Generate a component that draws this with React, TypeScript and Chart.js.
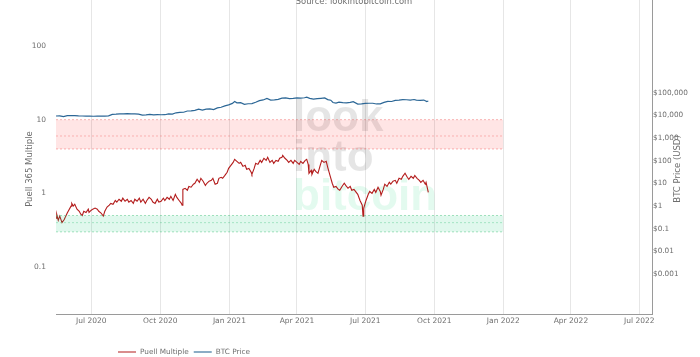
import React, { useEffect, useRef } from 'react';
import { Chart, registerables } from 'chart.js';
Chart.register(...registerables);

const puellDates = [
  '2020-05-15','2020-05-16','2020-05-18','2020-05-20','2020-05-23','2020-05-26','2020-05-28','2020-05-30',
  '2020-06-01','2020-06-04','2020-06-05','2020-06-07','2020-06-09','2020-06-12','2020-06-15','2020-06-17',
  '2020-06-19','2020-06-21','2020-06-24','2020-06-27','2020-06-28','2020-07-01','2020-07-03','2020-07-06',
  '2020-07-09','2020-07-11','2020-07-14','2020-07-17','2020-07-19','2020-07-22','2020-07-25','2020-07-27',
  '2020-07-30','2020-08-02','2020-08-04','2020-08-07','2020-08-10','2020-08-12','2020-08-15','2020-08-18',
  '2020-08-20','2020-08-23','2020-08-26','2020-08-28','2020-08-31','2020-09-03','2020-09-05','2020-09-08',
  '2020-09-11','2020-09-13','2020-09-16','2020-09-19','2020-09-21','2020-09-24','2020-09-27','2020-09-29',
  '2020-10-02','2020-10-05','2020-10-07','2020-10-10','2020-10-13','2020-10-15','2020-10-18','2020-10-21',
  '2020-10-23','2020-10-26','2020-10-29','2020-10-30','2020-10-31','2020-11-03','2020-11-06','2020-11-08',
  '2020-11-11','2020-11-14','2020-11-16','2020-11-19','2020-11-22','2020-11-24','2020-11-27','2020-11-30',
  '2020-12-02','2020-12-05','2020-12-08','2020-12-10','2020-12-13','2020-12-16','2020-12-18','2020-12-21',
  '2020-12-23','2020-12-26','2020-12-29','2020-12-31','2021-01-03','2021-01-06','2021-01-08','2021-01-11',
  '2021-01-14','2021-01-16','2021-01-19','2021-01-22','2021-01-24','2021-01-27','2021-01-30','2021-01-31',
  '2021-02-03','2021-02-05','2021-02-08','2021-02-11','2021-02-13','2021-02-16','2021-02-19','2021-02-21',
  '2021-02-24','2021-02-27','2021-03-01','2021-03-04','2021-03-07','2021-03-09','2021-03-12','2021-03-13',
  '2021-03-16','2021-03-19','2021-03-21','2021-03-24','2021-03-27','2021-03-29','2021-04-01','2021-04-04',
  '2021-04-06','2021-04-09','2021-04-12','2021-04-14','2021-04-16','2021-04-17','2021-04-20','2021-04-21',
  '2021-04-24','2021-04-26','2021-04-29','2021-05-02','2021-05-04','2021-05-07','2021-05-10','2021-05-12',
  '2021-05-15','2021-05-18','2021-05-20','2021-05-23','2021-05-26','2021-05-28','2021-05-31','2021-06-03',
  '2021-06-05','2021-06-08','2021-06-11','2021-06-13','2021-06-16','2021-06-19','2021-06-21','2021-06-24',
  '2021-06-27','2021-06-28','2021-06-29','2021-07-02','2021-07-05','2021-07-07','2021-07-10','2021-07-13',
  '2021-07-15','2021-07-18','2021-07-21','2021-07-22','2021-07-25','2021-07-27','2021-07-30','2021-08-02',
  '2021-08-04','2021-08-07','2021-08-10','2021-08-12','2021-08-15','2021-08-18','2021-08-20','2021-08-23',
  '2021-08-26','2021-08-28','2021-08-31','2021-09-03','2021-09-05','2021-09-08','2021-09-11','2021-09-13',
  '2021-09-16','2021-09-19','2021-09-20','2021-09-23',
];
const puellValues = [
  0.46,0.52,0.43,0.49,0.40,0.44,0.49,0.54,
  0.59,0.67,0.73,0.67,0.71,0.61,0.57,0.52,
  0.50,0.57,0.55,0.61,0.55,0.59,0.61,0.63,
  0.61,0.57,0.54,0.49,0.57,0.65,0.69,0.73,
  0.71,0.80,0.76,0.83,0.78,0.86,0.78,0.83,
  0.76,0.80,0.73,0.83,0.78,0.86,0.76,0.83,
  0.73,0.80,0.88,0.83,0.76,0.73,0.83,0.76,
  0.78,0.86,0.80,0.88,0.83,0.91,0.80,0.97,
  0.88,0.80,0.73,0.69,1.13,1.17,1.10,1.24,
  1.21,1.33,1.37,1.55,1.41,1.60,1.46,1.28,
  1.37,1.46,1.50,1.60,1.33,1.37,1.60,1.65,
  1.60,1.75,1.93,2.18,2.40,2.63,2.89,2.72,
  2.55,2.63,2.32,2.40,2.12,2.18,1.93,1.81,
  2.18,2.55,2.47,2.80,2.63,2.99,2.80,3.08,
  2.63,2.80,2.55,2.80,2.72,2.99,3.08,3.28,
  2.99,2.80,2.63,2.80,2.55,2.80,2.63,2.47,
  2.72,2.55,2.80,2.89,2.47,1.87,2.05,1.81,
  2.12,1.99,1.87,2.40,2.80,2.63,2.72,2.25,
  1.75,1.37,1.21,1.24,1.13,1.10,1.24,1.37,
  1.28,1.17,1.24,1.10,1.13,1.03,0.97,0.80,
  0.69,0.49,0.63,0.80,0.97,1.06,1.00,1.13,
  1.03,1.21,1.06,0.94,1.13,1.33,1.24,1.41,
  1.33,1.46,1.50,1.37,1.60,1.55,1.70,1.87,
  1.65,1.55,1.70,1.60,1.75,1.60,1.50,1.41,
  1.50,1.33,1.41,1.03,
];

const btcDates = [
  '2020-05-15','2020-05-20','2020-05-25','2020-05-30','2020-06-04','2020-06-09','2020-06-14','2020-06-19',
  '2020-06-24','2020-06-29','2020-07-04','2020-07-09','2020-07-14','2020-07-19','2020-07-24','2020-07-29',
  '2020-08-03','2020-08-08','2020-08-13','2020-08-18','2020-08-23','2020-08-28','2020-09-02','2020-09-07',
  '2020-09-12','2020-09-17','2020-09-22','2020-09-27','2020-10-02','2020-10-07','2020-10-12','2020-10-17',
  '2020-10-22','2020-10-27','2020-11-01','2020-11-06','2020-11-11','2020-11-16','2020-11-21','2020-11-26',
  '2020-12-01','2020-12-06','2020-12-11','2020-12-16','2020-12-21','2020-12-26','2020-12-31','2021-01-05',
  '2021-01-08','2021-01-11','2021-01-16','2021-01-21','2021-01-26','2021-01-31','2021-02-05','2021-02-10',
  '2021-02-15','2021-02-20','2021-02-25','2021-03-02','2021-03-07','2021-03-12','2021-03-17','2021-03-22',
  '2021-03-27','2021-04-01','2021-04-06','2021-04-11','2021-04-14','2021-04-18','2021-04-23','2021-04-28',
  '2021-05-03','2021-05-08','2021-05-12','2021-05-16','2021-05-19','2021-05-23','2021-05-27','2021-06-01',
  '2021-06-06','2021-06-11','2021-06-15','2021-06-21','2021-06-26','2021-07-01','2021-07-06','2021-07-11',
  '2021-07-16','2021-07-21','2021-07-26','2021-07-31','2021-08-05','2021-08-10','2021-08-15','2021-08-20',
  '2021-08-25','2021-08-30','2021-09-04','2021-09-07','2021-09-12','2021-09-17','2021-09-21','2021-09-23',
];
const btcPrices = [
  9380,9520,8790,9700,9800,9770,9450,9380,
  9300,9190,9130,9250,9250,9170,9540,11100,
  11230,11700,11560,11990,11680,11540,11400,10280,
  10440,10940,10540,10770,10620,10670,11550,11360,
  12990,13650,13740,15560,15700,16700,18680,17150,
  18800,19150,18050,21300,22800,26250,28990,33800,
  40600,35500,36100,30800,32500,33100,38000,44800,
  47900,55900,47100,48400,51000,57300,58900,54600,
  55900,58800,57600,59900,63500,56200,51700,54800,
  56600,58800,49600,46700,37000,34800,38400,36700,
  35800,37300,40200,31600,32100,33600,34200,34200,
  31800,32100,37300,41500,40900,45600,47100,49300,
  48900,46900,50000,46800,46000,47300,40700,42900,
];

const zoneDates = ['2020-05-15', '2022-01-01'];
const sellZone = [10, 6, 4];
const buyZone = [0.5, 0.4, 0.3];

const xRange = ['2020-05-15', '2022-07-18'];
const xTickDates = ['2020-07-01','2020-10-01','2021-01-01','2021-04-01','2021-07-01','2021-10-01','2022-01-01','2022-04-01','2022-07-01'];
const xTickLabels = ['Jul 2020','Oct 2020','Jan 2021','Apr 2021','Jul 2021','Oct 2021','Jan 2022','Apr 2022','Jul 2022'];
const puellRange = [0.023, 421];
const puellTicks = [0.1, 1, 10, 100];
const puellTickLabels = ['0.1', '1', '10', '100'];
const priceRange = [1.72e-5, 1.23e9];
const priceTicks = [0.001, 0.01, 0.1, 1, 10, 100, 1000, 10000, 100000];
const priceTickLabels = ['$0.001','$0.01','$0.1','$1','$10','$100','$1,000','$10,000','$100,000'];

const FONT = '"DejaVu Sans", Verdana, sans-serif';
const TXT = '#6e6e6e';
const RED = '#b31c1c';
const BLUE = '#2c6796';

const t = (d: string) => Date.parse(d);
const pts = (dates: string[], vals: number[]) => dates.map((d, i) => ({ x: t(d), y: vals[i] }));
const flat = (v: number) => zoneDates.map((d) => ({ x: t(d), y: v }));

const decorPlugin = {
  id: 'decor',
  beforeDatasetsDraw(chart: any) {
    const { ctx, chartArea: a } = chart;
    ctx.save();
    ctx.font = 'bold 44px "Liberation Sans", Arial, sans-serif';
    ctx.textAlign = 'left';
    ctx.textBaseline = 'alphabetic';
    const x = a.left + 237;
    ctx.fillStyle = 'rgba(0,0,0,0.1)';
    ctx.fillText('look', x, a.top + 131);
    ctx.fillText('into', x, a.top + 171);
    ctx.fillStyle = 'rgba(0,210,110,0.11)';
    ctx.fillText('bitcoin', x, a.top + 210);
    ctx.restore();
  },
  afterDraw(chart: any) {
    const { ctx, chartArea: a } = chart;
    ctx.save();
    ctx.fillStyle = TXT;
    ctx.font = `8.4px ${FONT}`;
    ctx.textAlign = 'center';
    ctx.textBaseline = 'alphabetic';
    ctx.fillText('Source: lookintobitcoin.com', (a.left + a.right) / 2, a.top + 4);
    const cy = (a.top + a.bottom) / 2 + 12;
    ctx.font = `8.5px ${FONT}`;
    ctx.textBaseline = 'middle';
    ctx.save();
    ctx.translate(a.left - 26, cy);
    ctx.rotate(-Math.PI / 2);
    ctx.fillText('Puell 365 Multiple', 0, 0);
    ctx.restore();
    ctx.save();
    ctx.translate(a.right + 26, cy);
    ctx.rotate(-Math.PI / 2);
    ctx.fillText('BTC Price (USD)', 0, 0);
    ctx.restore();
    const ly = a.bottom + 38;
    let lx = 118;
    const items = [
      { label: 'Puell Multiple', color: 'rgba(179,28,28,0.5)' },
      { label: 'BTC Price', color: 'rgba(44,103,150,0.55)' },
    ];
    ctx.font = `7.3px ${FONT}`;
    ctx.textAlign = 'left';
    for (const it of items) {
      ctx.strokeStyle = it.color;
      ctx.lineWidth = 2;
      ctx.beginPath();
      ctx.moveTo(lx, ly);
      ctx.lineTo(lx + 18, ly);
      ctx.stroke();
      ctx.fillStyle = TXT;
      ctx.fillText(it.label, lx + 22, ly);
      lx += 22 + ctx.measureText(it.label).width + 5;
    }
    ctx.restore();
  },
};

export default function App() {
  const ref = useRef<HTMLCanvasElement>(null);
  useEffect(() => {
    if (!ref.current) return;
    const zoneLine = (color: string, dash: number[]) => ({
      borderColor: color,
      borderWidth: 1,
      borderDash: dash,
      pointRadius: 0,
      yAxisID: 'y',
    });
    const chart = new Chart(ref.current, {
      type: 'line',
      data: {
        datasets: [
          { label: 'sellTop', data: flat(sellZone[0]), ...zoneLine('rgba(240,90,90,0.45)', [2, 2]), fill: '+2', backgroundColor: 'rgba(255,0,0,0.1)' },
          { label: 'sellMid', data: flat(sellZone[1]), ...zoneLine('rgba(240,90,90,0.35)', [2, 2]), fill: false },
          { label: 'sellBot', data: flat(sellZone[2]), ...zoneLine('rgba(240,90,90,0.45)', [2, 2]), fill: false },
          { label: 'buyTop', data: flat(buyZone[0]), ...zoneLine('rgba(60,190,120,0.45)', [2, 2]), fill: '+2', backgroundColor: 'rgba(0,200,110,0.12)' },
          { label: 'buyMid', data: flat(buyZone[1]), ...zoneLine('rgba(60,190,120,0.35)', [2, 2]), fill: false },
          { label: 'buyBot', data: flat(buyZone[2]), ...zoneLine('rgba(60,190,120,0.45)', [2, 2]), fill: false },
          { label: 'Puell Multiple', data: pts(puellDates, puellValues), borderColor: RED, borderWidth: 1.1, pointRadius: 0, fill: false, yAxisID: 'y' },
          { label: 'BTC Price', data: pts(btcDates, btcPrices), borderColor: BLUE, borderWidth: 1.2, pointRadius: 0, fill: false, yAxisID: 'y1' },
        ],
      },
      options: {
        responsive: false,
        animation: false,
        layout: { padding: 0 },
        plugins: { legend: { display: false }, title: { display: false }, tooltip: { enabled: false } },
        scales: {
          x: {
            type: 'linear',
            min: t(xRange[0]),
            max: t(xRange[1]),
            afterBuildTicks: (s: any) => { s.ticks = xTickDates.map((d) => ({ value: t(d) })); },
            afterFit: (s: any) => { s.height = 43; s.paddingLeft = 0; s.paddingRight = 0; },
            grid: { color: '#e6e6e6', lineWidth: 1, drawTicks: false },
            border: { display: true, color: '#9a9a9a', width: 1 },
            ticks: {
              autoSkip: false, maxRotation: 0, padding: 3, color: TXT,
              font: { family: FONT, size: 7.5 },
              callback: (_v: any, i: number) => xTickLabels[i],
            },
          },
          y: {
            type: 'logarithmic',
            position: 'left',
            min: puellRange[0],
            max: puellRange[1],
            afterBuildTicks: (s: any) => { s.ticks = puellTicks.map((v) => ({ value: v })); },
            afterFit: (s: any) => { s.width = 56; s.paddingTop = 0; s.paddingBottom = 0; },
            grid: { display: false },
            border: { display: false },
            ticks: {
              padding: 2, color: TXT, font: { family: FONT, size: 7.5 },
              callback: (_v: any, i: number) => puellTickLabels[i],
            },
          },
          y1: {
            type: 'logarithmic',
            position: 'right',
            min: priceRange[0],
            max: priceRange[1],
            afterBuildTicks: (s: any) => { s.ticks = priceTicks.map((v) => ({ value: v })); },
            afterFit: (s: any) => { s.width = 48; s.paddingTop = 0; s.paddingBottom = 0; },
            grid: { display: false, drawTicks: false },
            border: { display: true, color: '#9a9a9a', width: 1 },
            ticks: {
              padding: 1, color: TXT, font: { family: FONT, size: 7.3 },
              callback: (_v: any, i: number) => priceTickLabels[i],
            },
          },
        },
      } as any,
      plugins: [decorPlugin],
    });
    return () => chart.destroy();
  }, []);
  return (
    <div style={{ position: 'fixed', left: 0, top: 0, width: 700, height: 357, background: '#fff' }}>
      <canvas ref={ref} width={700} height={357} />
    </div>
  );
}
